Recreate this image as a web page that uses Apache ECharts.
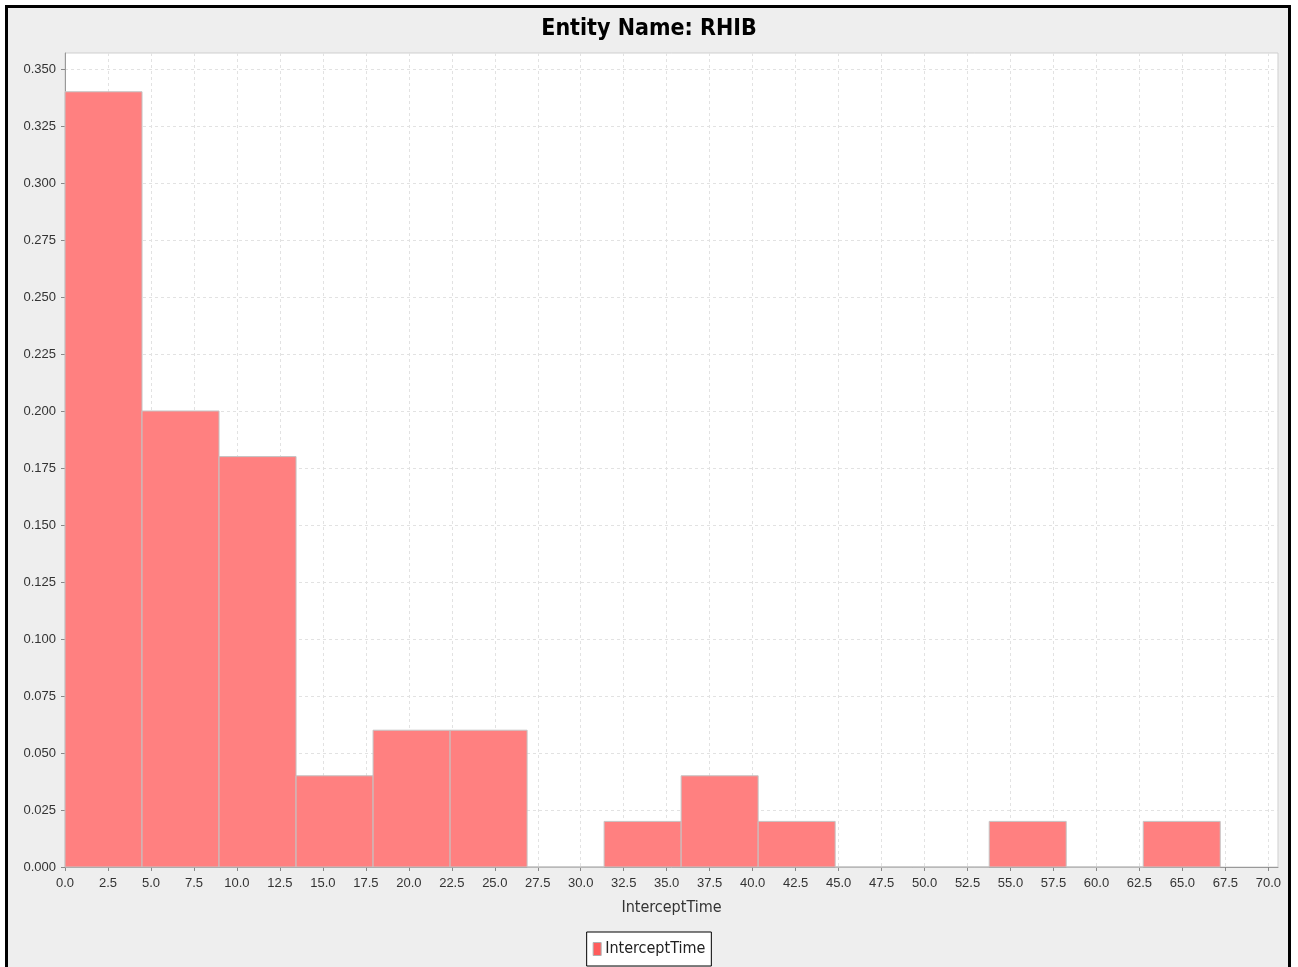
<!DOCTYPE html>
<html>
<head>
<meta charset="utf-8">
<script src="https://cdn.jsdelivr.net/npm/echarts@6/dist/echarts.min.js"></script>
<style>
  html, body { margin: 0; padding: 0; background: #fff; }
  #frame {
    position: absolute; left: 5px; top: 5px; width: 1286px; height: 975px;
    box-sizing: border-box; border: 3px solid #000; background: #eeeeee; z-index: 0;
  }
  #chart { position: absolute; left: 0; top: 0; width: 1298px; height: 967px; z-index: 1; }
</style>
</head>
<body>
<div id="frame"></div>
<div id="chart"></div>
<script>
// histogram bins (InterceptTime), relative frequency
const binStarts = [0, 4.48, 8.96, 13.44, 17.92, 22.4, 26.88, 31.36, 35.84, 40.32, 44.8, 49.28, 53.76, 58.24, 62.72];
const binEnds = [4.48, 8.96, 13.44, 17.92, 22.4, 26.88, 31.36, 35.84, 40.32, 44.8, 49.28, 53.76, 58.24, 62.72, 67.2];
const binHeights = [0.34, 0.20, 0.18, 0.04, 0.06, 0.06, 0.00, 0.02, 0.04, 0.02, 0.00, 0.00, 0.02, 0.00, 0.02];

const xTicks = [0, 2.5, 5, 7.5, 10, 12.5, 15, 17.5, 20, 22.5, 25, 27.5, 30, 32.5, 35, 37.5, 40, 42.5, 45,
  47.5, 50, 52.5, 55, 57.5, 60, 62.5, 65, 67.5, 70];
const yTicks = [0, 0.025, 0.05, 0.075, 0.1, 0.125, 0.15, 0.175, 0.2, 0.225, 0.25, 0.275, 0.3, 0.325, 0.35];

const seriesName = 'InterceptTime';
const barColor = '#ff8080';

const chart = echarts.init(document.getElementById('chart'));

const data = binStarts.map((s, i) => [s, binEnds[i], binHeights[i]]);

const option = {
  backgroundColor: 'transparent',
  animation: false,
  title: {
    text: 'Entity Name: RHIB',
    left: 'center',
    top: 13,
    textStyle: {
      fontFamily: '"DejaVu Sans Condensed", "Liberation Sans Narrow", sans-serif',
      fontWeight: 'bold',
      fontSize: 23,
      color: '#000'
    }
  },
  grid: {
    left: 65,
    right: 20,
    top: 53,
    bottom: 100,
    show: true,
    backgroundColor: '#fff',
    borderColor: '#cfcfcf',
    borderWidth: 1
  },
  legend: {
    top: 932,
    left: 'center',
    data: [{ name: seriesName, itemStyle: { color: '#ff5c5c', borderColor: '#b0b0b0', borderWidth: 1 } }],
    itemWidth: 8,
    itemHeight: 13,
    itemGap: 5,
    icon: 'rect',
    padding: [9, 6, 9, 6],
    borderColor: '#000',
    borderWidth: 1,
    borderRadius: 0,
    backgroundColor: '#fff',
    textStyle: {
      fontFamily: '"Liberation Sans Narrow", "DejaVu Sans Condensed", sans-serif',
      fontSize: 16,
      color: '#222',
      padding: [0, 0, 0, -1]
    }
  },
  xAxis: {
    type: 'value',
    min: 0,
    max: 70.56,
    name: 'InterceptTime',
    nameLocation: 'middle',
    nameGap: 33,
    nameTextStyle: {
      fontFamily: '"Liberation Sans Narrow", "DejaVu Sans Condensed", sans-serif',
      fontSize: 16,
      color: '#333'
    },
    axisLine: { show: true, lineStyle: { color: '#999', width: 1 } },
    axisTick: { show: true, length: 4, customValues: xTicks, lineStyle: { color: '#888' } },
    axisLabel: {
      customValues: xTicks,
      margin: 10,
      fontFamily: '"Liberation Sans", Arial, sans-serif',
      fontSize: 13,
      color: '#333',
      formatter: v => v.toFixed(1)
    },
    splitLine: { show: true, lineStyle: { color: '#e2e2e2', type: [3, 3], width: 1 } }
  },
  yAxis: {
    type: 'value',
    min: 0,
    max: 0.357,
    axisLine: { show: true, lineStyle: { color: '#999', width: 1 } },
    axisTick: { show: true, length: 4, customValues: yTicks, lineStyle: { color: '#888' } },
    axisLabel: {
      customValues: yTicks,
      margin: 9,
      fontFamily: '"Liberation Sans", Arial, sans-serif',
      fontSize: 13,
      color: '#333',
      formatter: v => v.toFixed(3)
    },
    splitLine: { show: true, lineStyle: { color: '#e2e2e2', type: [3, 3], width: 1 } }
  },
  series: [{
    name: seriesName,
    type: 'custom',
    itemStyle: { color: barColor },
    encode: { x: [0, 1], y: 2 },
    renderItem: function (params, api) {
      const p0 = api.coord([api.value(0), api.value(2)]);
      const p1 = api.coord([api.value(1), 0]);
      return {
        type: 'rect',
        shape: { x: p0[0], y: p0[1], width: p1[0] - p0[0], height: p1[1] - p0[1] },
        style: { fill: barColor, stroke: '#c4c4c4', lineWidth: 1 }
      };
    },
    data: data
  }]
};

chart.setOption(option);
</script>
</body>
</html>
